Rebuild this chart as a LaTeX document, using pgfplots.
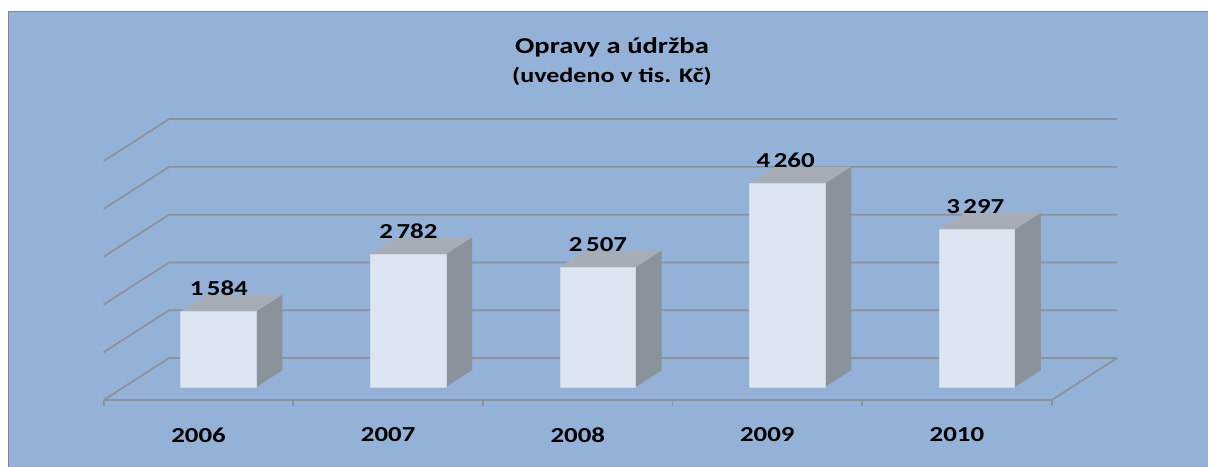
\documentclass[border=0pt]{standalone}
\usepackage{pgfplots}
\pgfplotsset{compat=1.18}
\usepackage{fontspec}
\setmainfont{Carlito}
\newfontfamily\wf[FakeStretch=1.26]{Carlito}
\definecolor{bg}{RGB}{148,178,215}
\definecolor{gridc}{RGB}{140,145,155}
\definecolor{framec}{RGB}{134,134,134}
\definecolor{barfront}{RGB}{220,230,242}
\definecolor{bartop}{RGB}{166,173,182}
\definecolor{barside}{RGB}{138,147,155}
\newcommand{\onebar}[3]{%
  \addplot3[fill=barside,draw=none,mark=none] coordinates {(#2,0.31,0)(#2,0.71,0)(#2,0.71,#3)(#2,0.31,#3)} -- cycle;
  \addplot3[fill=bartop,draw=none,mark=none] coordinates {(#1,0.31,#3)(#2,0.31,#3)(#2,0.71,#3)(#1,0.71,#3)} -- cycle;
  \addplot3[fill=barfront,draw=barfront!85!gray,line width=0.6pt,mark=none] coordinates {(#1,0.31,0)(#2,0.31,0)(#2,0.31,#3)(#1,0.31,#3)} -- cycle;
}
\newcommand{\gridl}[1]{\addplot3[gridc,line width=1.3pt,mark=none] coordinates {(0,0,#1)(0,1,#1)(5,1,#1)};}
\newcommand{\tickm}[1]{\addplot3[gridc,line width=1.3pt,mark=none] coordinates {(#1,0,0)(#1,0,-130)};}
\begin{document}
\begin{tikzpicture}[x=0.75pt,y=0.75pt]
\path[use as bounding box] (0,0) rectangle (1208,-467);
\fill[white] (0,0) rectangle (1208,-467);
\fill[bg] (8.5,-11.5) rectangle (1208,-467);
\draw[framec,line width=1.3pt] (8.5,-467) -- (8.5,-11.5) -- (1208,-11.5);
\begin{axis}[
  at={(266.6,-631)}, anchor=origin, xshift=7.9pt, yshift=-101.25pt,
  x={(142.2pt,0pt)}, y={(49pt,31.5pt)}, z={(0pt,0.03585pt)},
  xmin=0,xmax=5,ymin=0,ymax=1,zmin=0,zmax=5000,
  axis lines=none, clip=false,
  every axis plot/.append style={line join=round},
]
\gridl{1000}\gridl{2000}\gridl{3000}\gridl{4000}\gridl{5000}
\addplot3[gridc,line width=1.3pt,mark=none] coordinates {(0,0,0)(0,1,0)(5,1,0)(5,0,0)(0,0,0)};
\tickm{0}\tickm{1}\tickm{2}\tickm{3}\tickm{4}\tickm{5}
\onebar{0.3}{0.698}{1584}
\onebar{1.3}{1.698}{2782}
\onebar{2.3}{2.698}{2507}
\onebar{3.3}{3.698}{4260}
\onebar{4.3}{4.698}{3297}
\tikzset{lab/.style={font=\wf\fontsize{16}{17}\selectfont\bfseries,inner sep=0pt,anchor=center}}
\node[lab] at (axis cs:0.5,0.31,1584) [yshift=17pt] {1\,584};
\node[lab] at (axis cs:1.5,0.31,2782) [yshift=17pt] {2\,782};
\node[lab] at (axis cs:2.5,0.31,2507) [yshift=17pt] {2\,507};
\node[lab] at (axis cs:3.49,0.31,4260) [yshift=17pt] {4\,260};
\node[lab] at (axis cs:4.49,0.31,3297) [yshift=17pt] {3\,297};
\node[lab] at (axis cs:0.5,0,-730) {2006};
\node[lab] at (axis cs:1.5,0,-730) {2007};
\node[lab] at (axis cs:2.5,0,-730) {2008};
\node[lab] at (axis cs:3.5,0,-730) {2009};
\node[lab] at (axis cs:4.5,0,-730) {2010};
\end{axis}
\node[font=\wf\fontsize{17}{18}\selectfont\bfseries,inner sep=0pt] at (612,-47) {Opravy a údržba};
\node[font=\wf\fontsize{15.5}{16}\selectfont\bfseries,inner sep=0pt] at (612,-76) {(uvedeno v tis. Kč)};
\end{tikzpicture}
\end{document}
